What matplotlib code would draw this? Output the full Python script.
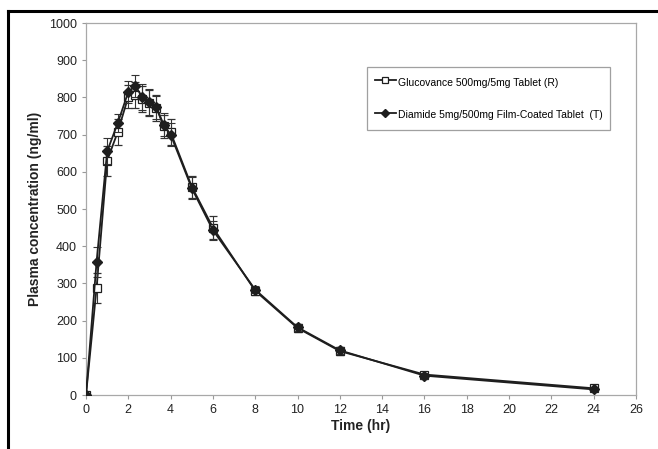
import matplotlib.pyplot as plt
from matplotlib.lines import Line2D

plt.rcParams['font.family'] = ['Liberation Sans', 'DejaVu Sans']

# sampling times (hr)
time = [0, 0.5, 1, 1.5, 2, 2.33, 2.67, 3, 3.33, 3.67, 4, 5, 6, 8, 10, 12, 16, 24]

# Glucovance (R) - squares
ref_conc = [0, 288, 630, 707, 802, 806, 795, 785, 772, 722, 706, 560, 450, 280, 180, 118, 55, 18]
ref_err = [0, 40, 40, 35, 30, 35, 35, 35, 35, 30, 35, 30, 30, 10, 10, 10, 8, 5]

# Diamide (T) - diamonds
test_conc = [0, 358, 655, 731, 815, 831, 800, 787, 773, 727, 700, 556, 443, 283, 182, 120, 52, 15]
test_err = [0, 40, 35, 25, 30, 30, 35, 35, 30, 30, 30, 30, 25, 10, 10, 10, 8, 5]

ref_label = 'Glucovance 500mg/5mg Tablet (R)'
test_label = 'Diamide 5mg/500mg Film-Coated Tablet  (T)'

fig = plt.figure(figsize=(6.58, 4.49), dpi=100)
ax = fig.add_axes([86/658, 1 - 395/449, 550/658, 372/449])

col = '#1e1e1e'
ax.errorbar(time, ref_conc, yerr=ref_err, color=col, lw=1.3, marker='s',
            ms=6, mfc='white', mec=col, mew=0.9, ecolor='#333333',
            elinewidth=0.8, capsize=3, capthick=0.8, label=ref_label, zorder=3)
ax.errorbar(time, test_conc, yerr=test_err, color=col, lw=1.3, marker='D',
            ms=5.5, mfc=col, mec=col, ecolor='#333333',
            elinewidth=0.8, capsize=3, capthick=0.8, label=test_label, zorder=4)

ax.set_xlim(0, 26)
ax.set_ylim(0, 1000)
ax.set_xticks(range(0, 27, 2))
ax.set_yticks(range(0, 1001, 100))
ax.tick_params(axis='both', labelsize=9, colors='#999999', labelcolor='#222222',
               length=3, width=0.8, direction='out')
for s in ax.spines.values():
    s.set_color('#a8a8a8')
    s.set_linewidth(0.9)

ax.set_xlabel('Time (hr)', fontsize=10, fontweight='bold', color='#222222', labelpad=2)
ax.set_ylabel('Plasma concentration (ng/ml)', fontsize=10, fontweight='bold',
              color='#222222', labelpad=5)

handles, labels = ax.get_legend_handles_labels()
leg = ax.legend([h[0] for h in handles], labels, loc='upper left',
                bbox_to_anchor=(367/658, 1 - 67/449), bbox_transform=fig.transFigure,
                fontsize=7.5, frameon=True, fancybox=False, handlelength=2.0,
                handleheight=1.8, handletextpad=0.2, labelspacing=1.7,
                borderpad=0.75, borderaxespad=0, markerscale=0.7)
leg.get_frame().set_edgecolor('#888888')
leg.get_frame().set_linewidth(0.9)

# outer frame of the scanned figure
fig.add_artist(Line2D([8/658, 1], [1 - 11/449, 1 - 11/449], color='black', lw=2.2,
                      transform=fig.transFigure))
fig.add_artist(Line2D([8/658, 8/658], [0, 1 - 11/449], color='black', lw=2.2,
                      transform=fig.transFigure))

fig.savefig('out.png', dpi=100)
